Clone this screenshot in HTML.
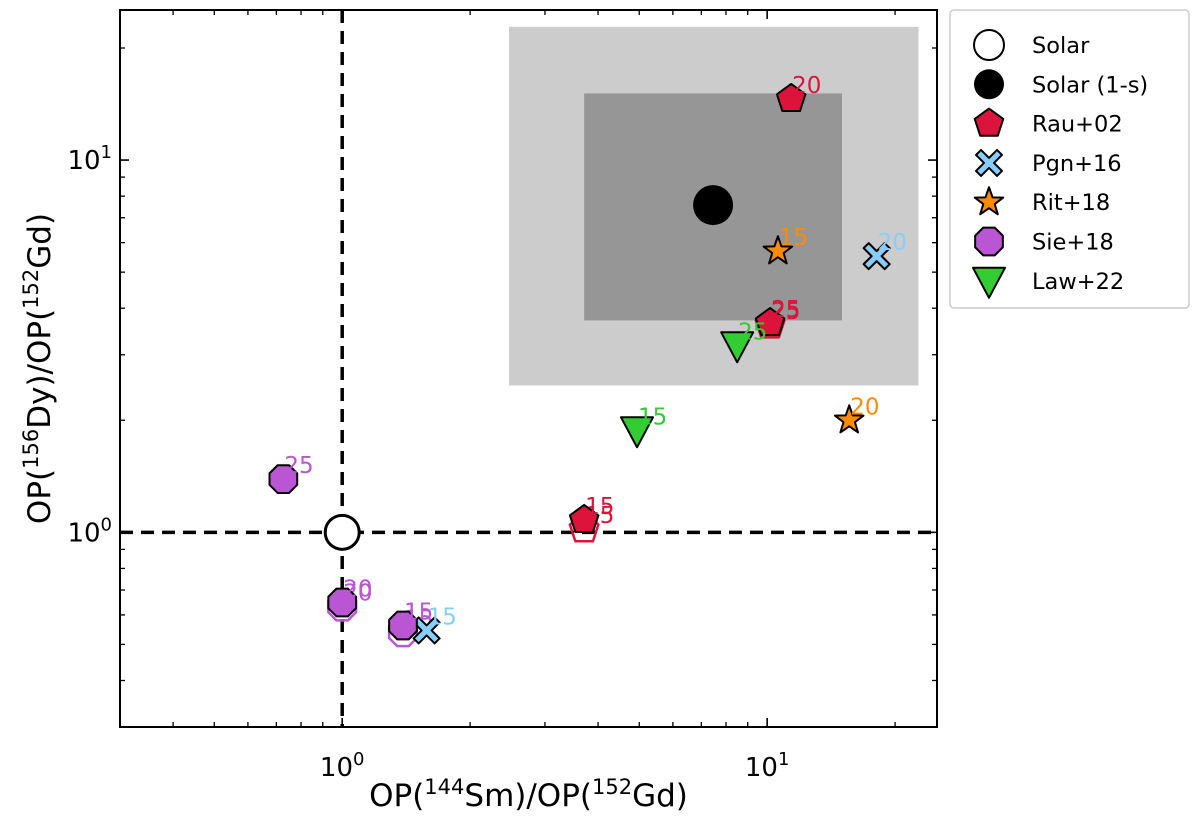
<!DOCTYPE html>
<html><head><meta charset="utf-8"><style>
body{margin:0;background:#fff;font-family:"Liberation Sans","DejaVu Sans",sans-serif}
svg text{font-family:"DejaVu Sans","Liberation Sans",sans-serif}
</style></head><body>
<svg id="chart" width="1200" height="817" xmlns="http://www.w3.org/2000/svg">
<g id="boxes"></g><g id="grid"></g><g id="marks"></g><g id="axes"></g><g id="legend"></g>
</svg>
<script>
const seriesNames=["Rau+02","Pgn+16","Rit+18","Sie+18","Law+22"];
const rauX=[3.71,11.39,10.16], rauY=[1.08,14.6,3.65], rauLab=["15","20","25"];
const rauHX=[3.71,10.16], rauHY=[1.02,3.6], rauHLab=["15","25"];
const pgnX=[1.58,18.1], pgnY=[0.545,5.52], pgnLab=["15","20"];
const ritX=[10.6,15.6], ritY=[5.69,2.0], ritLab=["15","20"];
const sieX=[1.39,1.0,0.727], sieY=[0.562,0.648,1.39], sieLab=["15","20","25"];
const sieHX=[1.39,1.0], sieHY=[0.539,0.632], sieHLab=["15","20"];
const lawX=[4.94,8.5], lawY=[1.88,3.18], lawLab=["15","25"];
const solarX=[1], solarY=[1];
const solar1sX=[7.46], solar1sY=[7.57];
const box2sX=[2.47,22.7], box2sY=[2.48,22.8];
const box1sX=[3.71,15.0], box1sY=[3.71,15.1];
const xTicks=[1,10], yTicks=[1,10];

const L=120,R=937,T=10,B=727;
const xmin=Math.log10(0.3),xmax=Math.log10(25.1),ymin=Math.log10(0.3),ymax=Math.log10(25.3);
const fx=v=>L+(Math.log10(v)-xmin)/(xmax-xmin)*(R-L);
const fy=v=>B-(Math.log10(v)-ymin)/(ymax-ymin)*(B-T);
const NS="http://www.w3.org/2000/svg";
function mk(tag,attrs,parent){const e=document.createElementNS(NS,tag);for(const k in attrs)e.setAttribute(k,attrs[k]);parent.appendChild(e);return e;}
const G=id=>document.getElementById(id);

let b=mk('rect',{x:fx(box2sX[0]),y:fy(box2sY[1]),width:fx(box2sX[1])-fx(box2sX[0]),height:fy(box2sY[0])-fy(box2sY[1]),fill:'#cccccc'},G('boxes'));


b=mk('rect',{x:fx(box1sX[0]),y:fy(box1sY[1]),width:fx(box1sX[1])-fx(box1sX[0]),height:fy(box1sY[0])-fy(box1sY[1]),fill:'#969696'},G('boxes'));


let l=mk('line',{x1:L,x2:R,y1:fy(1),y2:fy(1),stroke:'#000','stroke-width':3.5,'stroke-dasharray':'13,8'},G('grid'));


l=mk('line',{x1:fx(1),x2:fx(1),y1:T,y2:B,stroke:'#000','stroke-width':3.5,'stroke-dasharray':'13,8'},G('grid'));



function shape(type,cx,cy,fill,stroke,sw,parent){
  let pts=[];
  if(type==='pent'){for(let i=0;i<5;i++){const a=-Math.PI/2+i*2*Math.PI/5;pts.push([cx+15*Math.cos(a),cy+15*Math.sin(a)]);}}
  else if(type==='oct'){for(let i=0;i<8;i++){const a=Math.PI/8+i*Math.PI/4;pts.push([cx+15*Math.cos(a),cy+15*Math.sin(a)]);}}
  else if(type==='star'){for(let i=0;i<10;i++){const a=-Math.PI/2+i*Math.PI/5;const r=i%2?6:15;pts.push([cx+r*Math.cos(a),cy+r*Math.sin(a)]);}}
  else if(type==='tri'){pts=[[cx-16,cy-13],[cx+16,cy-13],[cx,cy+17]];}
  else if(type==='x'){const a=5,c=13;pts=[[-c+a,-c],[0,-a],[c-a,-c],[c,-c+a],[a,0],[c,c-a],[c-a,c],[0,a],[-c+a,c],[-c,c-a],[-a,0],[-c,-c+a]].map(p=>[cx+p[0],cy+p[1]]);}
  return mk('polygon',{points:pts.map(p=>p.join(',')).join(' '),fill:fill,stroke:stroke,'stroke-width':sw,'stroke-linejoin':'round'},parent);
}
function label(x,y,t,color){const e=mk('text',{x:x+1,y:y-6,fill:color,'font-size':23},G('marks'));e.textContent=t;return e;}

function series(xs,ys,labs,type,color,hollow,nm){
  for(let i=0;i<xs.length;i++){
    const cx=fx(xs[i]),cy=fy(ys[i]);
    const p=hollow?shape(type,cx,cy,'none',color,2.5,G('marks')):shape(type,cx,cy,color,'#000',2,G('marks'));
    
    
    const t=label(cx,cy,labs[i],color);
    
    
  }
}
series(rauHX,rauHY,rauHLab,'pent','#dc143c',true,'rau-hollow');
series(sieHX,sieHY,sieHLab,'oct','#ba55d3',true,'sie-hollow');
let c=mk('circle',{cx:fx(solarX[0]),cy:fy(solarY[0]),r:17,fill:'#fff',stroke:'#000','stroke-width':3},G('marks'));


c=mk('circle',{cx:fx(solar1sX[0]),cy:fy(solar1sY[0]),r:20,fill:'#000'},G('marks'));


series(rauX,rauY,rauLab,'pent','#dc143c',false,'rau');
series(pgnX,pgnY,pgnLab,'x','#87cefa',false,'pgn');
series(ritX,ritY,ritLab,'star','#ff8c00',false,'rit');
series(sieX,sieY,sieLab,'oct','#ba55d3',false,'sie');
series(lawX,lawY,lawLab,'tri','#32cd32',false,'law');

const ax=G('axes');
let fr=mk('rect',{x:L,y:T,width:R-L,height:B-T,fill:'none',stroke:'#000','stroke-width':2},ax);


const minors=[0.3,0.4,0.5,0.6,0.7,0.8,0.9,2,3,4,5,6,7,8,9,20];
minors.forEach(v=>{
  const x=fx(v),y=fy(v);
  mk('line',{x1:x,x2:x,y1:B,y2:B-5,stroke:'#000','stroke-width':1.3},ax);
  mk('line',{x1:x,x2:x,y1:T,y2:T+5,stroke:'#000','stroke-width':1.3},ax);
  mk('line',{x1:L,x2:L+5,y1:y,y2:y,stroke:'#000','stroke-width':1.3},ax);
  mk('line',{x1:R,x2:R-5,y1:y,y2:y,stroke:'#000','stroke-width':1.3},ax);
});
xTicks.forEach(v=>{const x=fx(v);
  mk('line',{x1:x,x2:x,y1:B,y2:B-9,stroke:'#000','stroke-width':1.6},ax);
  mk('line',{x1:x,x2:x,y1:T,y2:T+9,stroke:'#000','stroke-width':1.6},ax);
  const t=mk('text',{x:x,y:B+49,'text-anchor':'middle','font-size':26},ax);
  t.innerHTML='10<tspan dy="-11" font-size="18">'+Math.round(Math.log10(v))+'</tspan>';
  
  
});
yTicks.forEach(v=>{const y=fy(v);
  mk('line',{x1:L,x2:L+9,y1:y,y2:y,stroke:'#000','stroke-width':1.6},ax);
  mk('line',{x1:R,x2:R-9,y1:y,y2:y,stroke:'#000','stroke-width':1.6},ax);
  const t=mk('text',{x:L-8,y:y+9,'text-anchor':'end','font-size':26},ax);
  t.innerHTML='10<tspan dy="-11" font-size="18">'+Math.round(Math.log10(v))+'</tspan>';
  
  
});
let xt=mk('text',{x:(L+R)/2,y:806,'text-anchor':'middle','font-size':31},ax);
xt.innerHTML='OP(<tspan dy="-12" font-size="21">144</tspan><tspan dy="12">Sm)/OP(</tspan><tspan dy="-12" font-size="21">152</tspan><tspan dy="12">Gd)</tspan>';


let yt=mk('text',{x:0,y:0,'text-anchor':'middle','font-size':31,transform:'translate(50,'+((T+B)/2)+') rotate(-90)'},ax);
yt.innerHTML='OP(<tspan dy="-12" font-size="21">156</tspan><tspan dy="12">Dy)/OP(</tspan><tspan dy="-12" font-size="21">152</tspan><tspan dy="12">Gd)</tspan>';



const lg=G('legend');
let lb=mk('rect',{x:950,y:10,width:239,height:298,rx:4,fill:'#fff',stroke:'#ccc','stroke-width':1.5},lg);


const legNames=["Solar","Solar (1-s)"].concat(seriesNames);
const legTypes=["open","dot","pent","x","star","oct","tri"];
const legColors=["#fff","#000","#dc143c","#87cefa","#ff8c00","#ba55d3","#32cd32"];
legNames.forEach((n,i)=>{
  const y=45+i*39.3, x=989;
  let m;
  if(legTypes[i]==='open') m=mk('circle',{cx:x,cy:y,r:15,fill:'#fff',stroke:'#000','stroke-width':2},lg);
  else if(legTypes[i]==='dot') m=mk('circle',{cx:x,cy:y,r:15,fill:'#000'},lg);
  else m=shape(legTypes[i],x,y,legColors[i],'#000',2,lg);
  
  
  const t=mk('text',{x:1032,y:y+8,'font-size':22.5},lg);
  t.textContent=n;
  
  
});
</script>
</body></html>
